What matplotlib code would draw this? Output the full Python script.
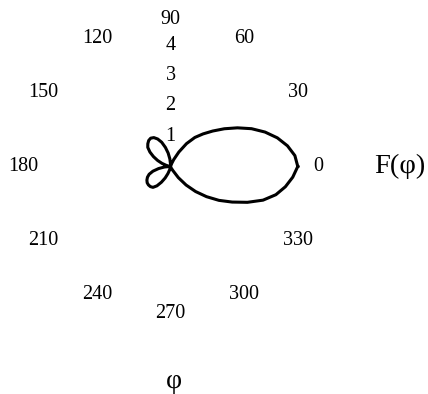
import numpy as np
import matplotlib
matplotlib.use("Agg")
import matplotlib.pyplot as plt

plt.rcParams["font.family"] = ["Liberation Serif", "DejaVu Serif"]

# Radiation pattern F(phi), sampled every 5 degrees
phi_deg = list(range(0, 365, 5))
F_vals = [4.2, 4.12, 3.92, 3.65, 3.32, 2.95, 2.55, 2.17, 1.82, 1.52,   # 0-45
          1.25, 0.92, 0.55, 0.25, 0.08, 0.02, 0.0, 0.02, 0.08,         # 50-90
          0.25, 0.45, 0.65, 0.85, 1.0, 1.1, 1.14, 1.12, 1.06,          # 95-135
          0.98, 0.83, 0.65, 0.47, 0.3, 0.15, 0.05, 0.02, 0.02,         # 140-180
          0.2, 0.4, 0.6, 0.75, 0.84, 0.9, 0.94, 0.95, 0.94,            # 185-225
          0.9, 0.78, 0.6, 0.42, 0.25, 0.12, 0.05, 0.02, 0.0,           # 230-270
          0.0, 0.0, 0.01, 0.02, 0.06, 0.15, 0.45, 0.8, 1.17,           # 275-315
          1.55, 1.95, 2.35, 2.8, 3.25, 3.6, 3.85, 4.05, 4.2]           # 320-360

theta_ticks = [0, 30, 60, 90, 120, 150, 180, 210, 240, 270, 300, 330]
theta_labels = [str(t) for t in theta_ticks]
r_ticks = [1, 2, 3, 4]
r_labels = ["1", "2", "3", "4"]
r_max = 5

fig = plt.figure(figsize=(4.28, 3.94), dpi=100)
ax = fig.add_axes([0.0444, 0.193, 0.708, 0.769], projection="polar")

ax.plot(np.deg2rad(phi_deg), F_vals, color="black", linewidth=2.2)

ax.set_ylim(0, r_max)
ax.set_thetagrids(theta_ticks, theta_labels, fontsize=14.5)
ax.set_yticks(r_ticks)
ax.set_yticklabels(r_labels, fontsize=14.5)
ax.set_rlabel_position(90)
for tick in ax.yaxis.get_major_ticks():
    tick.label1.set_horizontalalignment("center")
    tick.label1.set_verticalalignment("center")

ax.grid(False)
ax.spines["polar"].set_visible(False)
ax.tick_params(axis="x", length=0, pad=-10)
ax.tick_params(axis="y", length=0)
ax.set_facecolor("white")

fig.text(400 / 428, 1 - 166 / 394, "F(\u03c6)", fontsize=20.5,
         ha="center", va="center")
fig.text(173.5 / 428, 1 - 382 / 394, "\u03c6", fontsize=20,
         ha="center", va="center")

fig.savefig("out.png", dpi=100, facecolor="white")
